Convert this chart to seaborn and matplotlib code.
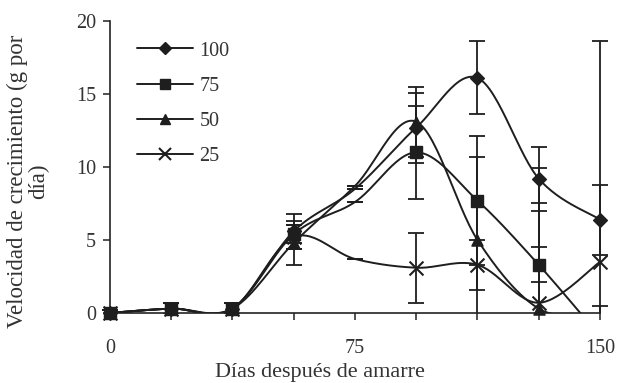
import numpy as np
import pandas as pd
import matplotlib
matplotlib.use("Agg")
import matplotlib.pyplot as plt
from matplotlib.lines import Line2D
import seaborn as sns

# data
dias = [0, 18.75, 37.5, 56.25, 75, 93.75, 112.5, 131.25, 150]
series = ["100", "75", "50", "25"]
v100 = [0, 0.3, 0.3, 5.6, 8.5, 12.7, 16.1, 9.2, 6.4]
v75 = [0, 0.3, 0.3, 5.4, 7.6, 11.0, 7.7, 3.3, -1.6]
v50 = [0, 0.3, 0.3, 4.8, 8.7, 13.1, 5.0, 0.3, -0.1]
v25 = [0, 0.3, 0.3, 5.2, 3.7, 3.1, 3.3, 0.7, 3.5]
e100 = [0.2, 0.4, 0.4, 1.2, 0.0, 2.4, 2.5, 2.2, 2.4]
e75 = [0.2, 0.4, 0.4, 0.6, 0.0, 3.2, 4.4, 1.2, 0.0]
e50 = [0.2, 0.4, 0.4, 1.5, 0.0, 2.4, 5.7, 7.2, 0.6]
e25 = [0.2, 0.4, 0.4, 0.8, 0.0, 2.4, 1.7, 9.2, 15.1]

valores = {"100": v100, "75": v75, "50": v50, "25": v25}
errores = {"100": e100, "75": e75, "50": e50, "25": e25}
marcas = {"100": "D", "75": "s", "50": "^", "25": "x"}
tam = {"100": 7, "75": 8, "50": 8, "25": 10}
color = "#1e1e1e"
# the day-75 points carry no marker in the original
sin_marca = [75]


def suave(x, y, n=30):
    # smoothed line like the spreadsheet "smoothed line" option (Catmull-Rom)
    pts = np.column_stack([x, y]).astype(float)
    P = np.vstack([pts[0], pts, pts[-1]])
    t = np.linspace(0, 1, n, endpoint=False)[:, None]
    out = []
    for i in range(1, len(P) - 2):
        p0, p1, p2, p3 = P[i - 1], P[i], P[i + 1], P[i + 2]
        seg = 0.5 * (2 * p1 + (p2 - p0) * t + (2 * p0 - 5 * p1 + 4 * p2 - p3) * t ** 2
                     + (-p0 + 3 * p1 - 3 * p2 + p3) * t ** 3)
        out.append(seg)
    out.append(pts[-1:])
    return np.vstack(out)


sns.set_style("white")
plt.rcParams["font.family"] = ["Liberation Serif", "DejaVu Serif"]

fig = plt.figure(figsize=(6.18, 3.83), dpi=100)
ax = fig.add_axes([0.1621, 0.1828, 0.8246, 0.7624])

for s in series:
    curva = suave(dias, valores[s])
    df = pd.DataFrame({"x": curva[:, 0], "y": curva[:, 1]})
    sns.lineplot(data=df, x="x", y="y", sort=False, estimator=None, color=color, lw=1.4, ax=ax)
    ax.errorbar(dias, valores[s], yerr=errores[s], fmt="none", ecolor=color,
                elinewidth=1.3, capsize=6, capthick=1.3)
    pts = pd.DataFrame({"x": dias, "y": valores[s]})
    pts = pts[(pts["y"] >= 0) & (~pts["x"].isin(sin_marca))]
    if marcas[s] == "x":
        ax.scatter(pts["x"], pts["y"], marker="x", s=tam[s] ** 2, color=color,
                   linewidths=1.5, clip_on=False, zorder=5)
    else:
        ax.scatter(pts["x"], pts["y"], marker=marcas[s], s=tam[s] ** 2, color=color,
                   edgecolors=color, clip_on=False, zorder=5)

ax.set_xlim(-3, 153)
ax.set_ylim(0, 20)
ax.set_xlabel("")
ax.set_ylabel("")
ax.spines["left"].set_position(("data", 0))
ax.spines["left"].set_bounds(0, 20)
ax.spines["bottom"].set_bounds(0, 150)
ax.spines["top"].set_visible(False)
ax.spines["right"].set_visible(False)
for sp in ["left", "bottom"]:
    ax.spines[sp].set_color("#222222")
    ax.spines[sp].set_linewidth(1.2)

ax.set_xticks([0, 75, 150])
ax.set_xticks(np.arange(0, 151, 18.75), minor=True)
ax.set_yticks([0, 5, 10, 15, 20])
ax.tick_params(axis="both", which="both", direction="out", length=5, width=1.1,
               color="#222222", labelsize=14.5, labelcolor="#333333")
ax.tick_params(axis="x", which="both", pad=14, bottom=True)
ax.tick_params(axis="y", pad=5, left=True)

ax.set_xlabel("Días después de amarre", fontsize=16, color="#333333")
ax.xaxis.set_label_coords(0.431, -0.17)
ax.set_ylabel("Velocidad de crecimiento (g por\ndía)", fontsize=16.5,
              color="#333333", linespacing=1.0)
ax.yaxis.set_label_coords(-0.10, 0.452)

handles = []
for s in series:
    handles.append(Line2D([], [], color=color, lw=1.4, marker=marcas[s],
                          markersize=tam[s] * 0.9, markeredgewidth=1.5 if s == "25" else 1.0))
ax.legend(handles, series, loc="upper left", bbox_to_anchor=(0.072, 0.93), frameon=False,
          fontsize=14.5, handlelength=2.8, handletextpad=0.3, labelspacing=0.8,
          borderpad=0, borderaxespad=0, labelcolor="#333333")

fig.savefig("out.png", dpi=100)
